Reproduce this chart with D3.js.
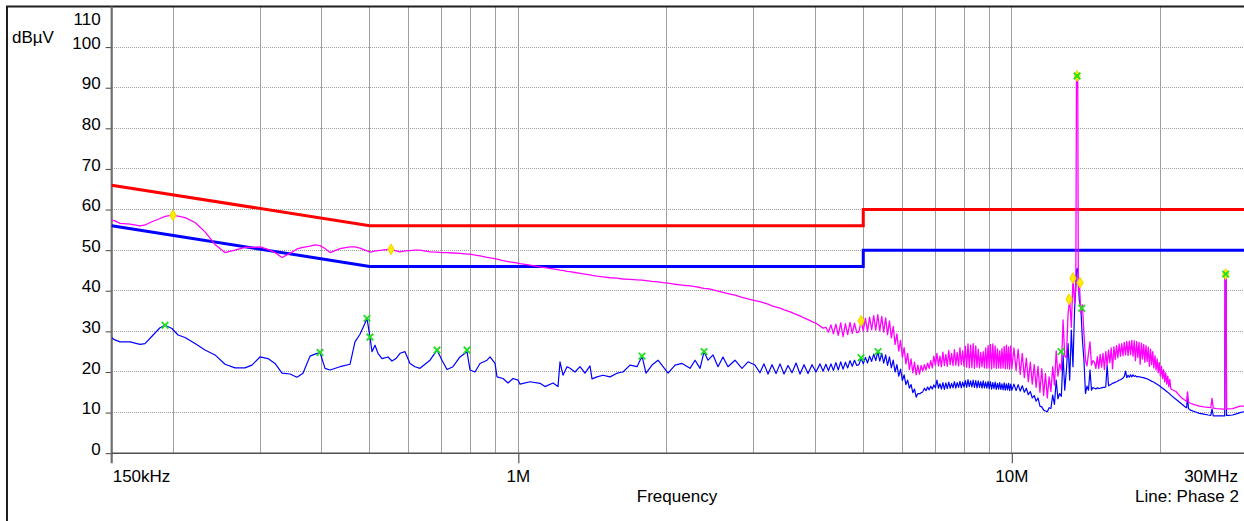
<!DOCTYPE html>
<html>
<head>
<meta charset="utf-8">
<script src="https://cdn.jsdelivr.net/npm/d3@7"></script>
<style>
  html, body { margin: 0; padding: 0; background: #fff; overflow: hidden; }
  svg { display: block; }
  text { font-family: "Liberation Sans", Arial, sans-serif; font-size: 17px; fill: #000; }
</style>
</head>
<body>
<svg id="chart" width="1244" height="521"></svg>
<script>
// ---- Conducted emission scan, Line: Phase 2 (frequencies in MHz, levels in dBµV) ----

// Sweep frequencies (MHz); one row group per band of the scan
const sweepFreq = [
  // 150 kHz – 4.2 MHz
  0.150,0.1523,0.1559,0.1634,0.1712,0.1752,0.1810,0.1879,0.1924,0.1987,
  0.2044,0.2112,0.2213,0.2318,0.2429,0.2545,0.2666,0.2793,0.2886,0.2996,
  0.3110,0.3214,0.3320,0.3447,0.3561,0.3662,0.3784,0.3873,0.3965,0.4058,
  0.4154,0.4352,0.4560,0.4667,0.4777,0.4890,0.4936,0.5006,0.5053,0.5124,
  0.5196,0.5294,0.5445,0.5547,0.5652,0.5758,0.5894,0.6033,0.6175,0.6321,
  0.6623,0.6843,0.7004,0.7170,0.7373,0.7618,0.7871,0.7982,0.8170,0.8363,
  0.8641,0.8763,0.8970,0.9054,0.9311,0.9531,0.9756,0.9986,1.0079,1.0561,
  1.1065,1.1326,1.1757,1.2034,1.2147,1.2318,1.2551,1.2728,1.3028,1.3335,
  1.3649,1.3972,1.4103,1.4436,1.4846,1.5339,1.5849,1.6299,1.6840,1.7400,
  1.7810,1.8145,1.8660,1.9190,1.9648,2.0111,2.0779,2.1469,2.2284,2.2810,
  2.3348,2.3788,2.4235,2.4807,2.5386,2.5984,2.6598,2.7481,2.8394,2.9200,
  3.0166,3.0877,3.1459,3.2061,3.2665,3.3281,3.3908,3.4546,3.5198,3.5861,
  3.6537,3.7225,3.7925,3.8640,3.9368,4.0109,4.0865,4.1441,
  // 4.2 – 10 MHz
  4.20,4.25,4.30,4.35,4.40,4.45,4.50,4.55,4.60,4.65,
  4.70,4.75,4.80,4.85,4.90,4.95,5.00,5.05,5.10,5.15,
  5.20,5.25,5.30,5.35,5.40,5.45,5.50,5.55,5.60,5.65,
  5.70,5.75,5.80,5.85,5.90,5.95,6.00,6.05,6.10,6.15,
  6.20,6.25,6.30,6.35,6.40,6.45,6.50,6.55,6.60,6.65,
  6.70,6.75,6.80,6.85,6.90,6.95,7.00,7.05,7.10,7.15,
  7.20,7.25,7.30,7.35,7.40,7.45,7.50,7.55,7.60,7.65,
  7.70,7.75,7.80,7.85,7.90,7.95,8.00,8.05,8.10,8.15,
  8.20,8.25,8.30,8.35,8.40,8.45,8.50,8.55,8.60,8.65,
  8.70,8.75,8.80,8.85,8.90,8.95,9.00,9.05,9.10,9.15,
  9.20,9.25,9.30,9.35,9.40,9.45,9.50,9.55,9.60,9.65,
  9.70,9.75,9.80,9.85,9.90,9.95,10.00,
  // 10 – 14.7 MHz
  10.1,10.2,10.3,10.4,10.5,10.6,10.7,10.8,10.9,11.0,
  11.1,11.2,11.3,11.4,11.5,11.6,11.7,11.8,11.9,12.0,
  12.1,12.2,12.3,12.4,12.5,12.6,12.7,12.8,12.9,13.0,
  13.1,13.2,13.3,13.4,13.48,13.52,13.56,13.60,13.64,13.7,
  13.8,13.9,14.0,14.1,14.2,14.3,14.4,14.5,14.6,
  // 14.7 – 21 MHz
  14.7,14.8,14.9,15.0,15.1,15.2,15.3,15.4,15.5,15.6,
  15.7,15.8,15.9,16.0,16.1,16.2,16.3,16.4,16.5,16.6,
  16.7,16.8,16.9,17.0,17.1,17.2,17.3,17.4,17.5,17.6,
  17.7,17.8,17.9,18.0,18.1,18.2,18.3,18.4,18.5,18.6,
  18.7,18.8,18.9,19.0,19.1,19.2,19.3,19.4,19.5,19.6,
  19.7,19.8,19.9,20.0,20.1,20.2,20.3,20.4,20.5,20.6,
  20.7,20.8,20.9,21.0,
  // 21 – 30 MHz
  21.5,22.0,22.5,22.6,22.7,22.8,23.0,23.5,24.0,24.5,
  25.0,25.3,25.45,25.6,26.0,26.5,27.0,27.05,27.09,27.12,
  27.15,27.19,27.23,27.5,28.0,28.5,29.0,29.5,30.0
];

// Peak detector trace (dBµV)
const peakLevel = [
  57.4,57.2,56.6,56.4,56.0,56.2,57.0,57.8,58.3,58.6,
  58.4,58.0,56.8,54.5,51.4,49.4,50.0,50.7,50.7,50.8,
  50.2,49.4,48.2,49.2,50.3,50.7,51.0,51.3,51.1,50.4,
  49.4,50.4,50.8,50.8,50.5,50.0,49.8,49.5,49.6,49.8,
  49.9,50.0,50.2,50.1,49.8,49.6,49.8,49.9,50.0,50.0,
  49.6,49.5,49.4,49.4,49.3,49.2,49.0,49.0,48.8,48.6,
  48.2,48.1,47.9,47.8,47.4,47.2,47.0,46.8,46.7,46.3,
  45.9,45.7,45.4,45.2,45.1,45.0,44.8,44.7,44.5,44.3,
  44.1,43.9,43.8,43.6,43.4,43.2,43.1,42.9,42.8,42.7,
  42.6,42.5,42.3,42.2,42.0,41.9,41.6,41.4,41.2,41.0,
  40.8,40.6,40.5,40.2,39.9,39.6,39.3,38.9,38.4,38.0,
  37.6,37.3,37.0,36.7,36.3,36.0,35.7,35.3,35.0,34.6,
  34.2,33.8,33.3,32.9,32.4,32.0,31.3,30.8,

  31.0,29.8,31.6,29.4,31.8,29.0,32.1,28.7,31.9,29.2,
  32.2,29.5,32.0,29.7,29.9,32.5,30.1,33.2,30.0,33.5,
  30.4,33.9,30.3,34.1,30.1,33.7,29.8,33.3,29.2,32.6,
  28.4,31.2,26.8,29.4,25.2,27.8,23.6,26.0,22.0,24.6,
  20.6,23.2,19.8,22.4,19.3,21.7,19.5,21.6,20.2,21.8,
  20.5,22.2,20.9,22.8,21.0,23.9,21.7,24.6,21.5,23.9,
  21.3,24.9,21.6,24.3,21.4,25.3,21.8,24.6,21.6,25.5,
  21.7,24.8,21.5,25.9,21.8,25.2,21.4,26.3,21.2,26.9,
  21.0,26.6,21.1,27.0,20.9,26.4,21.2,25.6,21.0,24.8,
  21.3,25.0,21.0,25.9,20.9,26.5,21.0,26.8,20.8,26.9,
  21.1,26.4,20.9,25.7,21.0,25.2,20.9,25.8,21.0,26.3,
  20.8,26.6,20.9,26.2,20.7,26.4,20.9,

  25.9,20.4,25.6,19.4,24.6,18.6,23.4,17.6,22.4,17.0,
  21.8,16.2,21.4,15.0,20.8,14.2,19.6,13.6,18.8,15.2,
  21.3,16.8,25.2,19.0,22.0,20.5,32.8,24.0,23.5,34.4,
  37.9,31.0,43.0,37.0,41.5,92.4,92.9,92.4,40.0,42.0,
  34.5,36.5,29.5,22.9,21.5,24.6,27.4,21.7,22.8,

  22.4,20.9,23.8,20.9,24.3,21.2,24.6,20.6,25.0,21.6,
  25.4,22.3,25.9,20.8,26.2,23.1,26.5,23.5,26.9,23.9,
  27.0,24.0,27.3,24.2,27.5,24.1,27.6,24.3,27.8,23.9,
  27.7,22.8,27.5,23.6,27.3,21.9,27.1,23.2,26.8,22.4,
  26.5,22.6,26.1,21.4,25.6,21.8,25.0,21.0,24.0,20.5,
  23.2,19.8,22.3,19.0,21.4,18.4,20.6,17.6,19.8,17.0,
  19.0,16.4,18.2,15.8,

  15.2,13.8,12.9,12.8,15.1,12.6,12.3,11.9,11.6,11.4,
  11.3,11.2,13.5,11.1,11.0,10.9,10.8,43.8,44.0,44.1,
  44.0,43.8,10.9,10.9,11.0,11.3,11.6,11.6,11.7
];

// Average detector trace (dBµV)
const averageLevel = [
  28.4,27.9,27.4,27.4,26.8,27.0,28.8,30.9,31.5,30.7,
  29.1,28.5,27.0,25.4,24.2,21.9,21.0,21.0,21.7,23.7,
  23.3,22.1,19.7,19.5,18.7,19.7,23.9,24.4,24.8,20.9,
  20.5,21.3,21.9,27.4,29.3,32.0,33.2,28.6,25.0,26.6,
  24.6,23.3,23.7,22.7,23.3,24.6,25.0,22.1,21.3,20.9,
  22.9,25.4,22.9,20.6,21.3,23.7,25.0,20.5,20.0,22.1,
  22.9,23.7,22.1,18.8,18.4,17.3,18.4,18.0,17.0,17.6,
  17.2,16.4,17.3,16.4,22.5,19.2,21.3,20.9,20.0,21.3,
  19.7,21.5,18.3,18.8,19.2,18.8,19.7,20.0,21.7,21.3,
  23.9,19.7,21.7,22.9,21.3,19.7,21.7,22.1,20.9,22.9,
  20.9,25.0,22.9,24.2,21.3,23.7,21.3,22.9,20.9,22.5,
  21.7,19.8,22.0,19.5,21.8,19.6,22.0,19.5,21.6,19.8,
  22.2,19.5,21.8,19.6,21.8,20.0,22.0,20.2,

  21.9,20.3,22.0,20.4,22.3,20.5,22.5,20.7,22.4,21.0,
  22.8,21.4,22.9,21.6,21.8,23.4,22.0,23.6,22.2,23.9,
  22.6,24.4,22.8,25.0,22.7,24.6,22.2,24.2,21.6,23.7,
  21.0,22.9,20.0,21.8,19.0,20.7,17.9,19.3,16.9,18.0,
  16.0,16.9,14.9,15.8,13.8,14.7,14.6,14.9,15.1,16.0,
  15.4,16.3,15.6,16.5,15.8,16.8,16.1,18.0,16.0,17.1,
  15.8,17.4,15.7,17.3,15.9,17.5,16.0,17.2,16.1,17.6,
  16.0,17.4,16.2,17.7,16.1,17.5,16.3,17.9,16.2,18.1,
  16.4,17.8,16.3,18.0,16.2,17.9,16.1,17.8,16.2,17.6,
  16.0,17.8,16.1,17.5,16.0,17.7,15.9,17.6,15.8,17.4,
  15.9,17.5,15.7,17.2,15.8,17.4,15.7,17.1,15.6,17.3,
  15.5,17.1,15.6,17.2,15.4,17.0,15.5,

  17.0,15.4,16.9,15.3,16.6,15.0,16.0,14.4,15.2,13.6,
  14.2,12.8,13.6,11.6,11.4,10.6,10.4,10.2,11.2,11.0,
  14.3,12.0,18.0,13.4,14.7,14.0,24.2,15.5,20.5,27.0,
  18.0,30.3,21.3,35.2,41.0,45.0,45.5,45.0,41.8,37.7,
  35.7,27.9,22.9,14.7,16.5,15.5,20.5,15.5,16.2,

  16.0,15.8,16.1,15.9,16.0,16.1,16.2,16.2,16.3,21.7,
  16.6,16.8,17.0,17.2,17.3,17.5,17.6,17.8,18.0,18.1,
  18.3,18.5,18.9,20.2,18.6,19.2,18.7,19.3,18.8,19.3,
  18.9,19.1,18.8,18.9,18.8,18.8,18.7,18.6,18.6,18.5,
  18.4,18.3,18.2,18.0,17.9,17.7,17.6,17.5,17.3,17.1,
  17.0,16.8,16.6,16.4,16.2,16.0,15.8,15.6,15.4,15.2,
  15.0,14.8,14.6,14.3,

  13.3,12.3,11.3,11.2,14.0,11.0,10.6,10.2,9.8,9.6,
  9.4,9.3,10.9,9.2,9.2,9.2,9.2,43.6,43.8,44.0,
  43.8,43.6,9.3,9.3,9.4,9.7,10.0,10.2,10.3
];

// Limit lines (EN 55022 class B): quasi-peak and average
const limitFreq   = [0.15, 0.5, 5, 5, 30];
const limitQP     = [66, 56, 56, 60, 60];
const limitAV     = [56, 46, 46, 50, 50];

// Final measurement markers
const peakMarkFreq  = [0.1996, 0.5521, 4.949, 13.06, 13.30, 13.56, 13.75, 27.12];
const peakMarkLevel = [58.6, 50.2, 32.6, 37.9, 43.1, 92.9, 42.0, 44.1];
const avgMarkFreq   = [0.1924, 0.3965, 0.4936, 0.5006, 0.6843, 0.7871, 1.781, 2.379, 4.949, 5.357, 12.58, 13.56, 13.86, 27.12];
const avgMarkLevel  = [31.5, 24.8, 33.2, 28.6, 25.4, 25.4, 23.9, 25.0, 23.5, 25.0, 25.0, 92.9, 35.7, 44.1];

// Axes and grid
const yTicks     = [0, 10, 20, 30, 40, 50, 60, 70, 80, 90, 100];
const yTop       = 110;
const gridFreq   = [0.2, 0.3, 0.4, 0.5, 0.6, 0.7, 0.8, 0.9, 1, 2, 3, 4, 5, 6, 7, 8, 9, 10, 20];
const xTickFreq  = [0.15, 1, 10, 30];
const xTickText  = ["150kHz", "1M", "10M", "30MHz"];

// ---- drawing ----
const W = 1244, H = 521;
const svg = d3.select("#chart");

const x = d3.scaleLog().domain([0.15, 30]).range([111.7, 1247.3]);
const y = d3.scaleLinear().domain([0, yTop]).range([453.2, 6.5]);

const x0 = x(0.15), yBase = y(0), yTopPx = y(yTop);

// grid
const grid = svg.append("g").attr("shape-rendering", "crispEdges");
grid.selectAll("line.h").data(yTicks.filter(d => d > 0)).join("line")
  .attr("class", "h")
  .attr("x1", x0).attr("x2", W)
  .attr("y1", d => y(d)).attr("y2", d => y(d))
  .attr("stroke", "#9c9c9c").attr("stroke-width", 1).attr("stroke-dasharray", "1,1");
grid.selectAll("line.v").data(gridFreq).join("line")
  .attr("class", "v")
  .attr("x1", d => x(d)).attr("x2", d => x(d))
  .attr("y1", yTopPx).attr("y2", yBase)
  .attr("stroke", "#a0a0a0").attr("stroke-width", 1);

// outer frame (top edge doubles as the plot's upper border)
svg.append("path")
  .attr("d", `M7,${H}V${yTopPx}H${W}`)
  .attr("fill", "none").attr("stroke", "#1e1e1e").attr("stroke-width", 2);

// y axis ticks + labels
const yAxis = svg.append("g")
  .attr("transform", `translate(${x0},0)`)
  .call(d3.axisLeft(y).tickValues(yTicks).tickSize(6).tickPadding(5).tickFormat(d3.format("d")));
yAxis.select(".domain").remove();
yAxis.selectAll(".tick line").attr("stroke", "#444").attr("stroke-width", 1);
yAxis.selectAll(".tick text")
  .attr("dy", "0.07em")
  .style("font-family", "'Liberation Sans', Arial, sans-serif")
  .style("font-size", "17px").attr("fill", "#000");

svg.append("text").attr("x", x0 - 11).attr("y", yTopPx + 18.5)
  .attr("text-anchor", "end").text(String(yTop));
svg.append("text").attr("x", 12).attr("y", 42.7).text("dBµV");

// x axis ticks
const xAxis = svg.append("g")
  .attr("transform", `translate(0,${yBase})`)
  .call(d3.axisBottom(x).tickValues(xTickFreq.slice(1, 3)).tickSize(10).tickFormat(() => ""));
xAxis.select(".domain").remove();
xAxis.selectAll(".tick line").attr("stroke", "#555").attr("stroke-width", 1.2);

// axis lines
svg.append("line").attr("x1", x0).attr("x2", x0).attr("y1", yTopPx).attr("y2", yBase + 10)
  .attr("stroke", "#6e6e6e").attr("stroke-width", 2.2);
svg.append("line").attr("x1", x0).attr("x2", W).attr("y1", yBase).attr("y2", yBase)
  .attr("stroke", "#505050").attr("stroke-width", 1.6);

// x tick labels
const anchors = ["start", "middle", "middle", "end"];
svg.append("g").selectAll("text").data(xTickFreq).join("text")
  .attr("x", (d, i) => i === 0 ? x(d) + 1 : (i === 3 ? Math.min(x(d), W - 6) : x(d)))
  .attr("y", yBase + 28.5)
  .attr("text-anchor", (d, i) => anchors[i])
  .text((d, i) => xTickText[i]);

svg.append("text").attr("x", 677).attr("y", 502).attr("text-anchor", "middle").text("Frequency");
svg.append("text").attr("x", W - 5).attr("y", 502).attr("text-anchor", "end").text("Line: Phase 2");

// limit lines
const limLine = d3.line().x(d => x(limitFreq[d])).y(d => y(d.v));
function drawLimit(levels, color) {
  svg.append("path")
    .datum(d3.range(limitFreq.length))
    .attr("d", d3.line().x(i => x(limitFreq[i])).y(i => y(levels[i])))
    .attr("fill", "none").attr("stroke", color).attr("stroke-width", 3);
}
drawLimit(limitQP, "#ff0000");
drawLimit(limitAV, "#0000ff");

// measured traces
const n = Math.min(sweepFreq.length, peakLevel.length, averageLevel.length);
const idx = d3.range(n);
const clip = svg.append("clipPath").attr("id", "plotClip")
  .append("rect").attr("x", x0).attr("y", 0).attr("width", W - x0).attr("height", yBase + 1);

svg.append("path").datum(idx)
  .attr("clip-path", "url(#plotClip)")
  .attr("d", d3.line().x(i => x(sweepFreq[i])).y(i => y(averageLevel[i])))
  .attr("fill", "none").attr("stroke", "#0000ff").attr("stroke-width", 1.2)
  .attr("stroke-linejoin", "round");

svg.append("path").datum(idx)
  .attr("clip-path", "url(#plotClip)")
  .attr("d", d3.line().x(i => x(sweepFreq[i])).y(i => y(peakLevel[i])))
  .attr("fill", "none").attr("stroke", "#ff00ff").attr("stroke-width", 1.3)
  .attr("stroke-linejoin", "round");

// markers
svg.append("g").selectAll("path").data(d3.range(peakMarkFreq.length)).join("path")
  .attr("transform", i => `translate(${x(peakMarkFreq[i])},${y(peakMarkLevel[i])})`)
  .attr("d", d3.symbol(d3.symbolDiamond, 34))
  .attr("fill", "#ffee00").attr("stroke", "#f2d200").attr("stroke-width", 1);

svg.append("g").selectAll("path").data(d3.range(avgMarkFreq.length)).join("path")
  .attr("transform", i => `translate(${x(avgMarkFreq[i])},${y(avgMarkLevel[i])})`)
  .attr("d", "M-3.3,-3.3L3.3,3.3M-3.3,3.3L3.3,-3.3")
  .attr("fill", "none").attr("stroke", "#1ee01e").attr("stroke-width", 1.8);
</script>
</body>
</html>
